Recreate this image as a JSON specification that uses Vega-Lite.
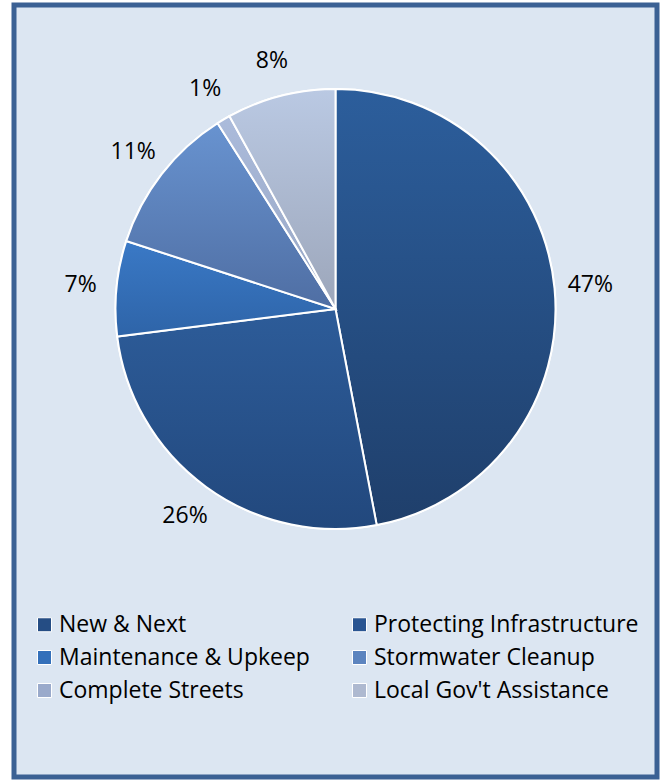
{
  "$schema": "https://vega.github.io/schema/vega-lite/v6.json",
  "autosize": "none",
  "width": 643,
  "height": 772,
  "padding": {"left": 14, "top": 5, "right": 6, "bottom": 3},
  "background": "white",
  "view": {"fill": "#dce6f2", "stroke": "#3b6194", "strokeWidth": 5},
  "data": {"values": [
    {"rank": 1, "category": "New & Next", "share": 47, "label": "47%"},
    {"rank": 2, "category": "Protecting Infrastructure", "share": 26, "label": "26%"},
    {"rank": 3, "category": "Maintenance & Upkeep", "share": 7, "label": "7%"},
    {"rank": 4, "category": "Stormwater Cleanup", "share": 11, "label": "11%"},
    {"rank": 5, "category": "Complete Streets", "share": 1, "label": "1%"},
    {"rank": 6, "category": "Local Gov't Assistance", "share": 8, "label": "8%"}
  ]},
  "transform": [
    {"stack": "share", "groupby": [], "sort": [{"field": "rank", "order": "ascending"}], "as": ["t0", "t1"]}
  ],
  "encoding": {
    "theta": {"field": "t0", "type": "quantitative", "scale": {"domain": [0, 100]}},
    "theta2": {"field": "t1"}
  },
  "layer": [
    {
      "mark": {"type": "arc", "radius": 220, "yOffset": -82, "stroke": "white", "strokeWidth": 2},
      "encoding": {
        "color": {
          "field": "category", "type": "nominal",
          "sort": ["New & Next", "Protecting Infrastructure", "Maintenance & Upkeep", "Stormwater Cleanup", "Complete Streets", "Local Gov't Assistance"],
          "scale": {
            "domain": ["New & Next", "Protecting Infrastructure", "Maintenance & Upkeep", "Stormwater Cleanup", "Complete Streets", "Local Gov't Assistance"],
            "range": ["#254d84", "#2a5592", "#3470ba", "#5c84bf", "#9aaacb", "#aeb9d0"]
          },
          "legend": {
            "title": null,
            "orient": "none",
            "legendX": 19,
            "legendY": 608,
            "direction": "horizontal",
            "columns": 2,
            "columnPadding": 38,
            "rowPadding": 9,
            "symbolType": "square",
            "symbolSize": 196,
            "symbolStrokeColor": "white",
            "symbolStrokeWidth": 1,
            "labelFont": "Open Sans",
            "labelFontSize": 23,
            "labelColor": "black",
            "labelOffset": 3,
            "labelLimit": 400
          }
        }
      }
    },
    {
      "transform": [{"filter": "datum.rank == 1"}],
      "mark": {"type": "arc", "radius": 220, "yOffset": -82, "stroke": "white", "strokeWidth": 2,
        "fill": {"gradient": "linear", "x1": 0, "y1": 0, "x2": 0, "y2": 1, "stops": [{"offset": 0, "color": "#2c5e9c"}, {"offset": 1, "color": "#1f3f6b"}]}}
    },
    {
      "transform": [{"filter": "datum.rank == 2"}],
      "mark": {"type": "arc", "radius": 220, "yOffset": -82, "stroke": "white", "strokeWidth": 2,
        "fill": {"gradient": "linear", "x1": 0, "y1": 0, "x2": 0, "y2": 1, "stops": [{"offset": 0, "color": "#2d5c99"}, {"offset": 1, "color": "#22487d"}]}}
    },
    {
      "transform": [{"filter": "datum.rank == 3"}],
      "mark": {"type": "arc", "radius": 220, "yOffset": -82, "stroke": "white", "strokeWidth": 2,
        "fill": {"gradient": "linear", "x1": 0, "y1": 0, "x2": 0, "y2": 1, "stops": [{"offset": 0, "color": "#3a79c6"}, {"offset": 1, "color": "#2e64a8"}]}}
    },
    {
      "transform": [{"filter": "datum.rank == 4"}],
      "mark": {"type": "arc", "radius": 220, "yOffset": -82, "stroke": "white", "strokeWidth": 2,
        "fill": {"gradient": "linear", "x1": 0, "y1": 0, "x2": 0, "y2": 1, "stops": [{"offset": 0, "color": "#6893d0"}, {"offset": 1, "color": "#4f6ea3"}]}}
    },
    {
      "transform": [{"filter": "datum.rank == 5"}],
      "mark": {"type": "arc", "radius": 220, "yOffset": -82, "stroke": "white", "strokeWidth": 2,
        "fill": {"gradient": "linear", "x1": 0, "y1": 0, "x2": 0, "y2": 1, "stops": [{"offset": 0, "color": "#abbbdb"}, {"offset": 1, "color": "#97a6c4"}]}}
    },
    {
      "transform": [{"filter": "datum.rank == 6"}],
      "mark": {"type": "arc", "radius": 220, "yOffset": -82, "stroke": "white", "strokeWidth": 2,
        "fill": {"gradient": "linear", "x1": 0, "y1": 0, "x2": 0, "y2": 1, "stops": [{"offset": 0, "color": "#bac9e3"}, {"offset": 1, "color": "#9ca6ba"}]}}
    },
    {
      "mark": {"type": "text", "radius": 256, "yOffset": -82, "font": "Open Sans", "fontSize": 23, "color": "black"},
      "encoding": {
        "theta": {"field": "share", "type": "quantitative", "stack": true, "scale": {"domain": [0, 100]}},
        "theta2": null,
        "order": {"field": "rank", "type": "quantitative"},
        "text": {"field": "label"}
      }
    }
  ]
}
